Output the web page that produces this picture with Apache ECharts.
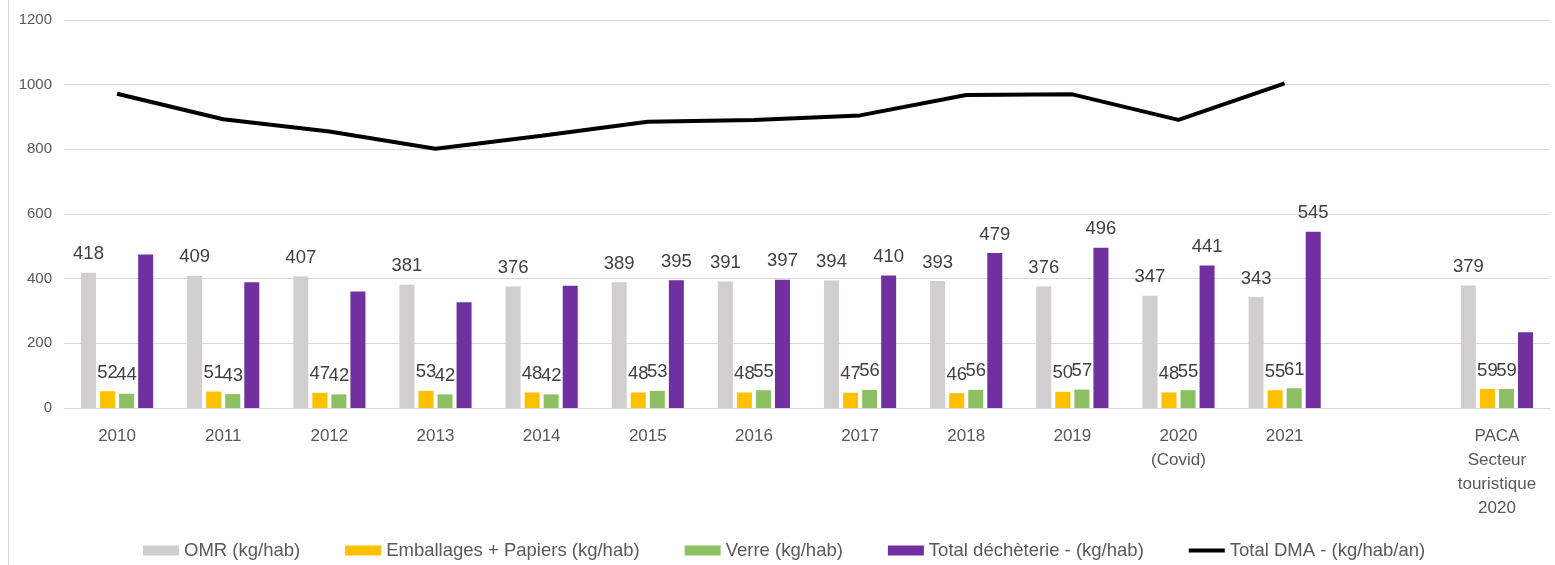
<!DOCTYPE html>
<html>
<head>
<meta charset="utf-8">
<script src="https://cdn.jsdelivr.net/npm/echarts@6/dist/echarts.min.js"></script>
<style>
  html, body { margin: 0; padding: 0; background: #fff; }
  #main { width: 1555px; height: 565px; }
</style>
</head>
<body>
<div id="main"></div>
<script>
// catégories (une colonne vide avant PACA)
var categories = ['2010', '2011', '2012', '2013', '2014', '2015', '2016', '2017', '2018', '2019', '2020\n(Covid)', '2021', '', 'PACA\nSecteur\ntouristique\n2020'];

var omr = [418, 409, 407, 381, 376, 389, 391, 394, 393, 376, 347, 343, '-', 379];
var emballages = [52, 51, 47, 53, 48, 48, 48, 47, 46, 50, 48, 55, '-', 59];
var verre = [44, 43, 42, 42, 42, 53, 55, 56, 56, 57, 55, 61, '-', 59];
var decheterie = [475, 389, 360, 327, 378, 395, 397, 410, 479, 496, 441, 545, '-', 234];
var totalDMA = [972, 893, 855, 802, 842, 885, 891, 905, 968, 970, 891, 1004, '-', '-'];

// étiquettes de déchèterie affichées seulement à partir de 2015
var decheterieLabelFrom = 5;
var decheterieLabelTo = 11;

var yTicks = { min: 0, max: 1200, interval: 200 };

var FONT = 'Liberation Sans';
var labelColor = '#404040';
var axisColor = '#595959';

function barLabel() {
  return {
    show: true,
    position: 'top',
    distance: 9,
    color: labelColor,
    fontFamily: FONT,
    fontSize: 18.5
  };
}

var chart = echarts.init(document.getElementById('main'));

var option = {
  animation: false,
  textStyle: { fontFamily: FONT },
  grid: {
    left: 64,
    right: 5,
    top: 20,
    bottom: 157
  },
  legend: {
    left: 138,
    bottom: 0,
    itemWidth: 36,
    itemHeight: 10,
    itemGap: 45,
    textStyle: {
      color: axisColor,
      fontSize: 18.5,
      fontFamily: FONT
    },
    data: [
      { name: 'OMR (kg/hab)', icon: 'rect' },
      { name: 'Emballages + Papiers (kg/hab)', icon: 'rect' },
      { name: 'Verre (kg/hab)', icon: 'rect' },
      { name: 'Total déchèterie - (kg/hab)', icon: 'rect' },
      { name: 'Total DMA - (kg/hab/an)', icon: 'path://M0,0H36V4H0Z' }
    ]
  },
  graphic: [
    {
      type: 'line',
      shape: { x1: 8.5, y1: 0, x2: 8.5, y2: 565 },
      style: { stroke: '#d9d9d9', lineWidth: 1 }
    }
  ],
  xAxis: {
    type: 'category',
    data: categories,
    axisTick: { show: false },
    axisLine: { lineStyle: { color: '#d9d9d9', width: 1 } },
    axisLabel: {
      color: axisColor,
      fontSize: 17,
      fontFamily: FONT,
      lineHeight: 24,
      margin: 16,
      interval: 0
    }
  },
  yAxis: {
    type: 'value',
    min: yTicks.min,
    max: yTicks.max,
    interval: yTicks.interval,
    axisLine: { show: false },
    axisTick: { show: false },
    axisLabel: {
      color: axisColor,
      fontSize: 15,
      fontFamily: FONT,
      margin: 12,
      formatter: function (v) { return String(v); }
    },
    splitLine: { lineStyle: { color: '#d9d9d9', width: 1 } }
  },
  series: [
    {
      name: 'OMR (kg/hab)',
      type: 'bar',
      barWidth: 15,
      barGap: '27%',
      itemStyle: { color: '#d0cece' },
      label: barLabel(),
      data: omr
    },
    {
      name: 'Emballages + Papiers (kg/hab)',
      type: 'bar',
      barWidth: 15,
      barGap: '27%',
      itemStyle: { color: '#ffc000' },
      label: barLabel(),
      data: emballages
    },
    {
      name: 'Verre (kg/hab)',
      type: 'bar',
      barWidth: 15,
      barGap: '27%',
      itemStyle: { color: '#8dc063' },
      label: barLabel(),
      data: verre
    },
    {
      name: 'Total déchèterie - (kg/hab)',
      type: 'bar',
      barWidth: 15,
      barGap: '27%',
      itemStyle: { color: '#7030a0' },
      label: barLabel(),
      data: decheterie.map(function (v, i) {
        var showIt = i >= decheterieLabelFrom && i <= decheterieLabelTo;
        return { value: v, label: { show: showIt } };
      })
    },
    {
      name: 'Total DMA - (kg/hab/an)',
      type: 'line',
      symbol: 'none',
      lineStyle: { color: '#000', width: 4 },
      itemStyle: { color: '#000' },
      data: totalDMA
    }
  ]
};

chart.setOption(option);
</script>
</body>
</html>
